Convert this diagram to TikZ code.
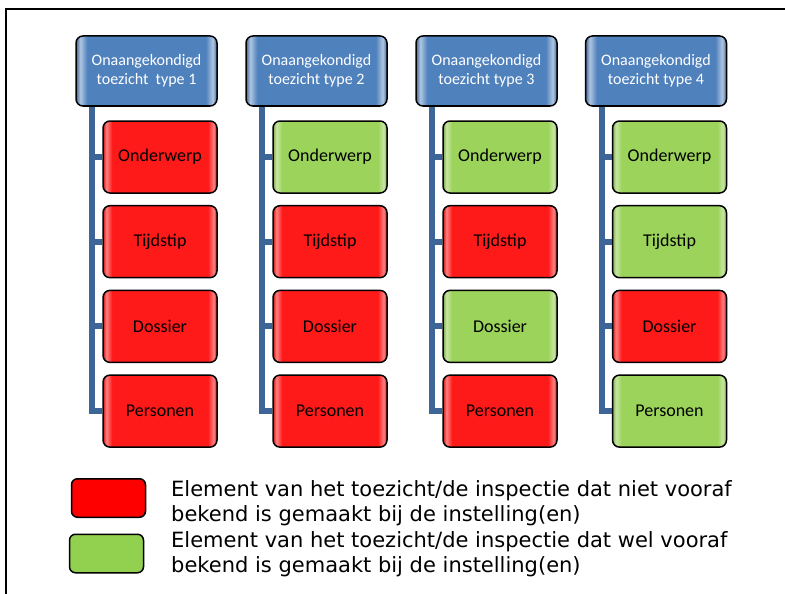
\documentclass[tikz,border=0pt]{standalone}
\usepackage{fontspec}
\setmainfont{Carlito}
\newfontfamily\legendfont{DejaVu Sans}
\usepackage{xcolor}
\usetikzlibrary{trees}

\definecolor{boxred}{HTML}{FF1A1A}
\definecolor{boxgreen}{HTML}{9BD35B}
\definecolor{boxblue}{HTML}{4F81BD}
\definecolor{linkblue}{HTML}{3D6597}
\definecolor{legred}{HTML}{FF0000}
\definecolor{leggreen}{HTML}{92D050}

\pgfdeclarehorizontalshading{redbevel}{100bp}{color(0bp)=(boxred!80!black); color(25bp)=(boxred!80!black);
  color(26.5bp)=(boxred!55!white); color(29bp)=(boxred); color(71bp)=(boxred);
  color(73.5bp)=(boxred!55!white); color(75bp)=(boxred!80!black); color(100bp)=(boxred!80!black)}
\pgfdeclarehorizontalshading{greenbevel}{100bp}{color(0bp)=(boxgreen!80!black); color(25bp)=(boxgreen!80!black);
  color(26.5bp)=(boxgreen!55!white); color(29bp)=(boxgreen); color(71bp)=(boxgreen);
  color(73.5bp)=(boxgreen!55!white); color(75bp)=(boxgreen!80!black); color(100bp)=(boxgreen!80!black)}
\pgfdeclarehorizontalshading{bluebevel}{100bp}{color(0bp)=(boxblue!80!black); color(25bp)=(boxblue!80!black);
  color(26.5bp)=(boxblue!45!white); color(29bp)=(boxblue); color(71bp)=(boxblue);
  color(73.5bp)=(boxblue!45!white); color(75bp)=(boxblue!80!black); color(100bp)=(boxblue!80!black)}

\begin{document}
\begin{tikzpicture}[x=1pt, y=-1pt,
  head/.style = {shape=rectangle, rounded corners=7pt, draw=black, line width=1.5pt,
    shade, shading=bluebevel, minimum width=141pt, minimum height=70pt,
    align=center, text=white, inner sep=1pt, font=\fontsize{16}{19}\selectfont},
  elem/.style = {shape=rectangle, rounded corners=7pt, draw=black, line width=1.5pt,
    minimum width=114pt, minimum height=72pt, inner sep=1pt,
    font=\fontsize{18}{21}\selectfont},
  rd/.style = {elem, shade, shading=redbevel},
  gn/.style = {elem, shade, shading=greenbevel},
  legbox/.style = {shape=rectangle, rounded corners=6pt, draw=black, line width=1.5pt,
    minimum width=74pt, minimum height=38.5pt},
  legtext/.style = {anchor=west, align=left, inner sep=0pt,
    font=\legendfont\fontsize{21}{25.5}\selectfont},
  edge from parent/.style = {draw=linkblue, line width=6pt},
  edge from parent path = {([xshift=17pt]\tikzparentnode.south west) |- (\tikzchildnode.west)},
  grow via three points = {one child at (13.5,86) and two children at (13.5,86) and (13.5,170.7)}]

  \useasboundingbox (0,0) rectangle (785,594);
  \draw[line width=2pt] (6,594) -- (6,9) -- (785,9);

  \node[head] (h1) at (146.5,71) {Onaangekondigd\\toezicht\ \ type 1}
    child {node[rd] (o1) {Onderwerp}}
    child {node[rd] (t1) {Tijdstip}}
    child {node[rd] (d1) {Dossier}}
    child {node[rd] (p1) {Personen}};
  \node[head] (h2) at (316.5,71) {Onaangekondigd\\toezicht type 2}
    child {node[gn] (o2) {Onderwerp}}
    child {node[rd] (t2) {Tijdstip}}
    child {node[rd] (d2) {Dossier}}
    child {node[rd] (p2) {Personen}};
  \node[head] (h3) at (486.5,71) {Onaangekondigd\\toezicht type 3}
    child {node[gn] (o3) {Onderwerp}}
    child {node[rd] (t3) {Tijdstip}}
    child {node[gn] (d3) {Dossier}}
    child {node[rd] (p3) {Personen}};
  \node[head] (h4) at (656,71) {Onaangekondigd\\toezicht type 4}
    child {node[gn] (o4) {Onderwerp}}
    child {node[gn] (t4) {Tijdstip}}
    child {node[rd] (d4) {Dossier}}
    child {node[gn] (p4) {Personen}};

  % legend
  \node[legbox, fill=legred] (lgred) at (108.5,498) {};
  \node[legbox, fill=leggreen] (lggreen) at (106.5,553.5) {};
  \node[legtext] (lgtextred) at (171,503) {Element van het toezicht/de inspectie dat niet vooraf\\bekend is gemaakt bij de instelling(en)};
  \node[legtext] (lgtextgreen) at (171,554) {Element van het toezicht/de inspectie dat wel vooraf\\bekend is gemaakt bij de instelling(en)};
\end{tikzpicture}
\end{document}
